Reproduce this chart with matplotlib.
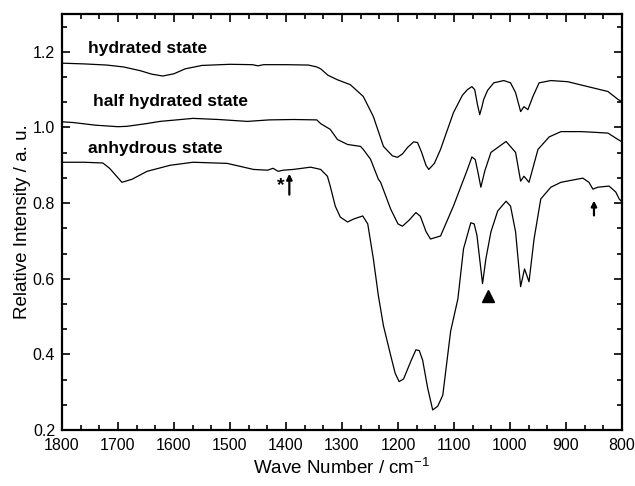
import matplotlib
matplotlib.use('Agg')
import matplotlib.pyplot as plt
from matplotlib.ticker import MultipleLocator, AutoMinorLocator, FormatStrFormatter

plt.rcParams['font.family'] = ['Liberation Sans', 'DejaVu Sans']
plt.rcParams['mathtext.fontset'] = 'custom'
plt.rcParams['mathtext.rm'] = 'Liberation Sans'
plt.rcParams['mathtext.it'] = 'Liberation Sans'

# 水合态
wn_hyd = [1800, 1760, 1720, 1690, 1660, 1640, 1620, 1600, 1580, 1550, 1500, 1460,
          1450, 1440, 1400, 1360, 1345, 1338, 1325, 1308, 1285, 1262, 1244, 1226,
          1210, 1201, 1192, 1183, 1172, 1165, 1158, 1150, 1145, 1135, 1124, 1101,
          1085, 1076, 1068, 1063, 1058, 1054, 1050, 1047, 1040, 1029, 1011, 999, 990, 981,
          975, 968, 959, 948, 927, 897, 861, 825, 807, 800]
i_hyd = [1.170, 1.168, 1.165, 1.160, 1.150, 1.141, 1.136, 1.142, 1.155, 1.164, 1.167, 1.166,
         1.163, 1.166, 1.166, 1.165, 1.160, 1.155, 1.138, 1.126, 1.113, 1.082, 1.029, 0.950,
         0.925, 0.921, 0.930, 0.947, 0.962, 0.960, 0.935, 0.900, 0.889, 0.905, 0.942, 1.039,
         1.085, 1.100, 1.108, 1.100, 1.060, 1.034, 1.055, 1.074, 1.098, 1.118, 1.124, 1.118,
         1.092, 1.042, 1.055, 1.047, 1.082, 1.118, 1.124, 1.121, 1.108, 1.095, 1.074, 1.068]

# 半水合态
wn_half = [1800, 1780, 1740, 1700, 1684, 1650, 1625, 1566, 1520, 1469, 1430, 1387,
           1345, 1338, 1321, 1308, 1290, 1267, 1262, 1249, 1235, 1231, 1213, 1200,
           1192, 1180, 1168, 1160, 1150, 1142, 1124, 1101, 1076, 1068, 1062, 1057, 1052, 1045,
           1034, 1007, 990, 981, 975, 966, 950, 930, 909, 873, 847, 825, 807, 800]
i_half = [1.015, 1.013, 1.006, 1.002, 1.003, 1.010, 1.016, 1.024, 1.021, 1.016, 1.020, 1.021,
          1.020, 1.010, 0.995, 0.968, 0.955, 0.950, 0.942, 0.916, 0.863, 0.855, 0.784, 0.745,
          0.739, 0.755, 0.775, 0.765, 0.725, 0.705, 0.713, 0.792, 0.889, 0.922, 0.915, 0.880,
          0.842, 0.885, 0.934, 0.963, 0.934, 0.858, 0.871, 0.855, 0.942, 0.975, 0.989, 0.989,
          0.987, 0.985, 0.968, 0.962]

# 无水态
wn_anh = [1800, 1760, 1727, 1715, 1709, 1693, 1675, 1648, 1607, 1566, 1505, 1458,
          1433, 1423, 1414, 1405, 1387, 1356, 1338, 1326, 1321, 1312, 1303, 1290,
          1279, 1263, 1254, 1244, 1235, 1226, 1213, 1205, 1198, 1190, 1177, 1168, 1162, 1156,
          1147, 1138, 1129, 1120, 1106, 1093, 1083, 1070, 1064, 1059, 1049, 1043, 1034,
          1022, 1007, 999, 990, 981, 974, 966, 957, 945, 927, 909, 870, 859, 852,
          843, 823, 811, 805, 800]
i_anh = [0.908, 0.908, 0.906, 0.892, 0.882, 0.855, 0.863, 0.884, 0.900, 0.908, 0.905, 0.889,
         0.887, 0.892, 0.884, 0.887, 0.889, 0.895, 0.889, 0.871, 0.845, 0.792, 0.763, 0.750,
         0.758, 0.766, 0.745, 0.653, 0.555, 0.476, 0.397, 0.350, 0.328, 0.335, 0.382, 0.412,
         0.410, 0.385, 0.311, 0.253, 0.263, 0.292, 0.461, 0.547, 0.679, 0.748, 0.745, 0.715,
         0.587, 0.653, 0.724, 0.779, 0.805, 0.792, 0.724, 0.579, 0.626, 0.592, 0.705, 0.811,
         0.842, 0.855, 0.866, 0.855, 0.837, 0.842, 0.845, 0.829, 0.811, 0.803]

fig = plt.figure(figsize=(6.35, 4.86), dpi=100)
ax = fig.add_axes([0.0976, 0.1152, 0.8819, 0.856])

for wn, val in [(wn_hyd, i_hyd), (wn_half, i_half), (wn_anh, i_anh)]:
    ax.plot(wn, val, color='black', lw=0.9)

ax.set_xlim(1800, 800)
ax.set_ylim(0.2, 1.3)
ax.xaxis.set_major_locator(MultipleLocator(100))
ax.xaxis.set_minor_locator(AutoMinorLocator(3))
ax.yaxis.set_major_locator(MultipleLocator(0.2))
ax.yaxis.set_minor_locator(AutoMinorLocator(3))
ax.tick_params(which='both', direction='in', top=True, right=True, labelsize=11.5, width=1.2)
ax.tick_params(which='major', length=6)
ax.tick_params(which='minor', length=3.5)
ax.tick_params(axis='x', pad=6)
ax.tick_params(axis='y', pad=5)
ax.yaxis.set_major_formatter(FormatStrFormatter('%.1f'))
for s in ax.spines.values():
    s.set_linewidth(1.6)

ax.set_xlabel('Wave Number / cm$^{-1}$', fontsize=13.5, labelpad=3)
ax.set_ylabel('Relative Intensity / a. u.', fontsize=13.5, labelpad=1)

ax.text(1753, 1.208, 'hydrated state', fontsize=12.5, fontweight='bold', va='center')
ax.text(1745, 1.068, 'half hydrated state', fontsize=12.5, fontweight='bold', va='center')
ax.text(1753, 0.945, 'anhydrous state', fontsize=12.5, fontweight='bold', va='center')

arrow = dict(arrowstyle='-|>', color='black', lw=1.6, mutation_scale=8)
ax.annotate('', xy=(1394, 0.885), xytext=(1394, 0.815), arrowprops=arrow)
ax.text(1410, 0.845, '*', fontsize=14, fontweight='bold', ha='center', va='center')
ax.annotate('', xy=(850, 0.814), xytext=(850, 0.760), arrowprops=arrow)
ax.plot([1040], [0.555], marker='^', color='black', markersize=9, linestyle='none')

fig.savefig('out.png', dpi=100)
